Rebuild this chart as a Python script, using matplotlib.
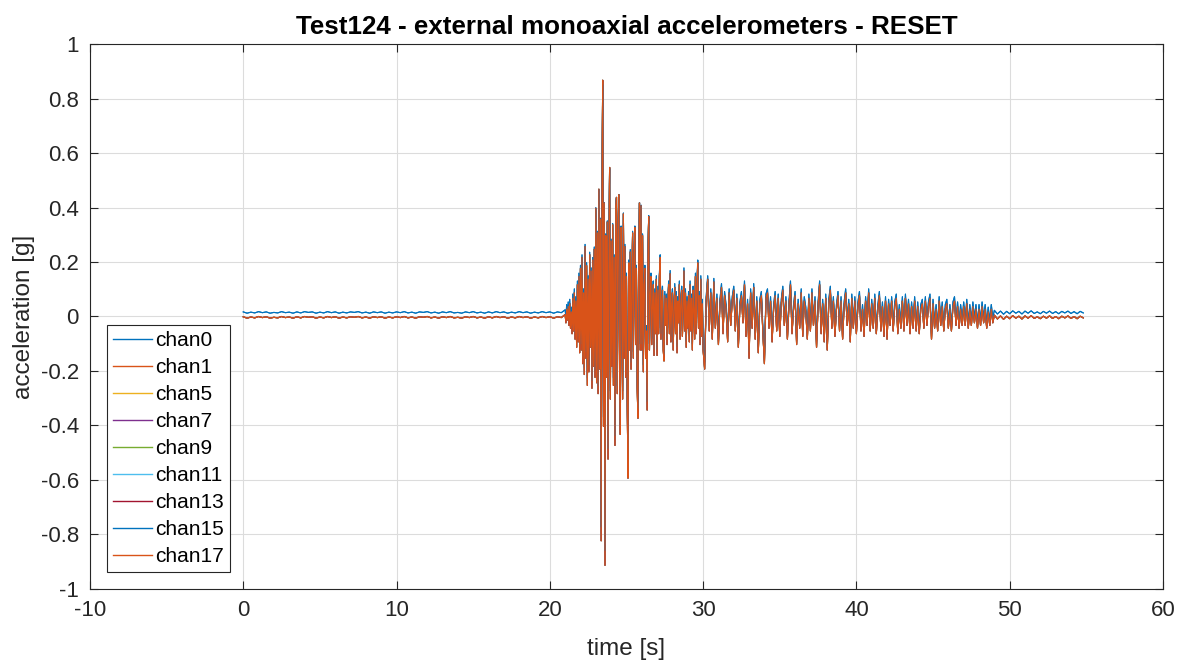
import numpy as np
import matplotlib
matplotlib.use('Agg')
import matplotlib.pyplot as plt

plt.rcParams['font.family'] = ['Liberation Sans', 'DejaVu Sans']

# Channel names, colours (MATLAB default order), sensor bias [g] and gain
channels = ['chan0', 'chan1', 'chan5', 'chan7', 'chan9',
            'chan11', 'chan13', 'chan15', 'chan17']
colors = ['#0072BD', '#D95319', '#EDB120', '#7E2F8E', '#77AC30',
          '#4DBEEE', '#A2142F', '#0072BD', '#D95319']
bias = [0.015, -0.003, -0.003, -0.003, -0.003, -0.003, -0.003, 0.015, -0.003]
gain = [0.96, 1.0, 1.0, 1.0, 1.0, 1.0, 1.0, 0.96, 1.0]

# Pre-event noise, 0 s .. 20.75 s every 0.25 s
pre_t0, pre_dt = 0.0, 0.25
pre_acc = [
    0.002, -0.003, 0.001, -0.002, 0.003, -0.001, 0.002, -0.003, 0.000, -0.002,
    0.003, -0.001, 0.001, -0.003, 0.002, -0.002, 0.003, 0.000, 0.002, -0.003,
    0.001, -0.002, 0.003, -0.001, 0.002, -0.003, 0.001, -0.002, 0.002, 0.000,
    0.003, -0.002, 0.001, -0.003, 0.002, -0.001, 0.002, -0.003, 0.001, -0.002,
    0.002, -0.001, 0.003, -0.002, 0.001, -0.003, 0.002, 0.000, 0.003, -0.002,
    0.001, -0.003, 0.002, -0.001, 0.003, -0.002, 0.000, -0.003, 0.002, -0.001,
    0.003, -0.002, 0.001, -0.003, 0.002, -0.002, 0.003, -0.001, 0.002, -0.003,
    0.001, -0.002, 0.003, -0.001, 0.002, -0.003, 0.001, -0.002, 0.003, -0.001,
    0.002, -0.003, 0.002, -0.001]

# Strong motion, 21.0 s .. 29.95 s every 0.05 s
strong_t0, strong_dt = 21.0, 0.05
strong_acc = [
    0.01, -0.02, 0.03, -0.01, 0.04, -0.03, 0.05, -0.04, 0.02, -0.06,
    0.07, -0.05, 0.09, -0.08, 0.06, -0.11, 0.12, -0.09, 0.15, -0.13,
    0.18, -0.12, 0.22, -0.17, 0.09, -0.21, 0.26, -0.15, 0.19, -0.25,
    0.14, -0.20, 0.23, -0.11, 0.17, -0.26, 0.21, -0.18, 0.25, -0.22,
    0.40, -0.24, 0.31, -0.28, 0.47, -0.19, 0.36, -0.82, 0.45, 0.87,
    -0.40, 0.42, -0.91, 0.30, -0.22, 0.35, -0.52, 0.20, 0.55, -0.30,
    0.28, -0.18, 0.34, -0.25, 0.22, -0.47, 0.41, 0.44, -0.28, 0.30,
    0.45, -0.20, -0.43, 0.33, 0.12, -0.30, 0.38, -0.15, 0.26, -0.22,
    0.15, -0.31, -0.59, 0.20, -0.12, 0.24, -0.19, 0.08, 0.31, -0.15,
    0.22, 0.33, -0.10, 0.18, -0.26, -0.37, 0.25, 0.42, -0.12, 0.41,
    -0.12, 0.30, -0.20, 0.12, 0.18, -0.15, -0.05, -0.34, 0.22, 0.37,
    -0.12, 0.08, 0.15, -0.10, 0.05, 0.12, -0.14, 0.09, -0.06, 0.14,
    -0.14, 0.10, -0.06, 0.15, 0.22, -0.08, 0.06, 0.10, -0.12, -0.16,
    0.08, -0.03, 0.07, -0.10, 0.04, 0.12, -0.06, 0.16, -0.09, 0.05,
    0.09, -0.12, 0.03, 0.11, -0.06, 0.08, -0.13, 0.06, -0.02, 0.12,
    -0.08, 0.05, 0.10, -0.07, 0.04, 0.17, -0.05, 0.09, -0.11, 0.06,
    -0.04, 0.08, -0.09, 0.12, -0.05, 0.07, -0.12, 0.10, 0.03, -0.08,
    0.15, -0.06, 0.11, 0.20, -0.04, 0.08, -0.10, 0.14, -0.07, 0.05]

# Coda, 30.0 s .. 48.9 s every 0.1 s
coda_t0, coda_dt = 30.0, 0.1
coda_acc = [
    -0.12, -0.19, 0.06, 0.14, -0.05, 0.09, -0.08, 0.13, -0.04, 0.07,
    -0.10, 0.05, 0.11, -0.06, 0.08, 0.03, -0.09, 0.09, -0.03, 0.06,
    0.10, -0.05, 0.07, -0.11, 0.04, 0.08, -0.02, 0.12, -0.07, 0.05,
    -0.15, 0.09, -0.04, 0.11, -0.08, 0.06, -0.13, 0.05, 0.08, -0.06,
    -0.17, 0.07, 0.09, -0.04, 0.06, -0.09, 0.03, 0.08, -0.05, 0.07,
    -0.07, 0.05, 0.10, -0.03, 0.06, -0.08, 0.04, 0.12, -0.06, 0.03,
    0.08, -0.10, 0.05, -0.04, 0.09, -0.07, 0.06, 0.02, -0.08, 0.07,
    -0.05, 0.09, -0.03, 0.06, -0.11, 0.04, 0.12, -0.06, 0.05, -0.09,
    0.07, -0.12, 0.05, 0.10, -0.04, 0.06, -0.07, 0.03, 0.08, -0.05,
    0.06, -0.08, 0.04, 0.09, -0.03, 0.05, -0.09, 0.07, -0.04, 0.06,
    -0.06, 0.04, 0.08, -0.05, 0.03, -0.07, 0.06, -0.03, 0.09, -0.05,
    0.05, -0.04, 0.07, -0.06, 0.03, 0.08, -0.05, 0.04, -0.07, 0.06,
    -0.08, 0.05, -0.03, 0.06, -0.05, 0.04, 0.07, -0.06, 0.03, -0.04,
    0.06, -0.05, 0.07, -0.03, 0.05, -0.06, 0.04, -0.04, 0.06, -0.05,
    0.04, -0.06, 0.03, 0.05, -0.04, 0.06, -0.03, 0.04, 0.07, -0.08,
    0.05, -0.04, 0.03, -0.05, 0.06, -0.03, 0.04, -0.05, 0.03, 0.05,
    -0.04, 0.03, -0.05, 0.04, 0.06, -0.03, 0.04, -0.04, 0.03, -0.03,
    0.04, -0.03, 0.05, -0.04, 0.03, -0.03, 0.04, -0.02, 0.03, -0.04,
    0.03, -0.03, 0.04, -0.02, 0.03, -0.04, 0.02, -0.03, 0.03, -0.02]

# Tail noise, 49.0 s .. 54.8 s every 0.2 s
tail_t0, tail_dt = 49.0, 0.2
tail_acc = [0.008, -0.006, 0.005, -0.007, 0.004, -0.005, 0.006, -0.003, 0.004, -0.006,
            0.005, -0.003, 0.006, -0.004, 0.002, -0.005, 0.004, -0.003, 0.005, -0.004,
            0.003, -0.005, 0.004, -0.002, 0.005, -0.004, 0.003, -0.005, 0.004, -0.002]

segments = [(pre_t0, pre_dt, pre_acc), (strong_t0, strong_dt, strong_acc),
            (coda_t0, coda_dt, coda_acc), (tail_t0, tail_dt, tail_acc)]
t = np.concatenate([t0 + dt * np.arange(len(a)) for t0, dt, a in segments])
acc = np.concatenate([np.asarray(a) for _, _, a in segments])

fig = plt.figure(figsize=(11.79, 6.64), dpi=100)
ax = fig.add_axes([0.0763, 0.1130, 0.9101, 0.8207])

for name, c, b, g in zip(channels, colors, bias, gain):
    ax.plot(t, g * acc + b, color=c, lw=0.8, label=name)

ax.set_xlim(-10, 60)
ax.set_ylim(-1, 1)
ax.set_xticks(np.arange(-10, 61, 10))
ax.set_yticks(np.round(np.arange(-1, 1.01, 0.2), 1))
ax.set_yticklabels(['-1', '-0.8', '-0.6', '-0.4', '-0.2', '0',
                    '0.2', '0.4', '0.6', '0.8', '1'])
ax.set_xticklabels(['-10', '0', '10', '20', '30', '40', '50', '60'])
ax.grid(True, color='#dcdcdc', lw=0.8)
ax.tick_params(direction='in', length=6, width=0.8, labelsize=16,
               top=True, right=True, colors='#262626', pad=8)
for s in ax.spines.values():
    s.set_color('#262626')
    s.set_linewidth(0.8)

ax.set_xlabel('time [s]', fontsize=17.5, color='#262626', labelpad=12)
ax.set_ylabel('acceleration [g]', fontsize=17.5, color='#262626', labelpad=4)
ax.set_title('Test124 - external monoaxial accelerometers - RESET',
             fontsize=18.7, fontweight='bold', pad=7)

leg = ax.legend(loc='lower left', bbox_to_anchor=(0.0158, 0.031), borderaxespad=0,
                fontsize=15, handlelength=1.85, handletextpad=0.15, labelspacing=0.38,
                borderpad=0.3, fancybox=False, framealpha=1, edgecolor='#262626')
leg.get_frame().set_linewidth(0.8)
for h in leg.get_lines():
    h.set_linewidth(1.0)

fig.savefig('out.png', dpi=100)
